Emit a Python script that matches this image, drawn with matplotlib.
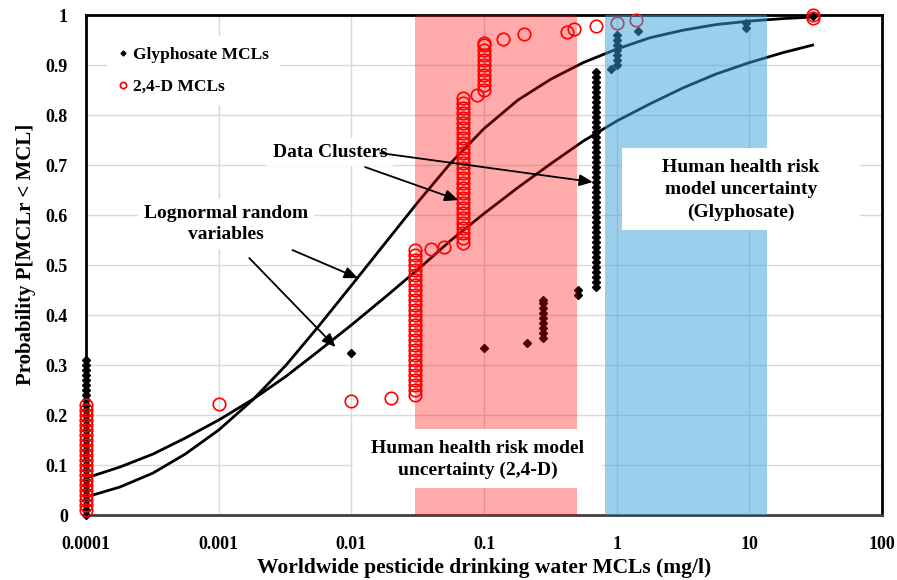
import matplotlib
matplotlib.use("Agg")
import matplotlib.pyplot as plt
from matplotlib.patches import Rectangle

plt.rcParams['font.family'] = ['Liberation Serif', 'DejaVu Serif']
plt.rcParams['font.weight'] = 'bold'
plt.rcParams['axes.labelweight'] = 'bold'

# lognormal curves, values at quarter decades
curve_x = [0.0001, 0.00018, 0.00032, 0.00056, 0.001, 0.0018, 0.0032, 0.0056,
           0.01, 0.018, 0.032, 0.056, 0.1, 0.18, 0.32, 0.56, 1, 1.8, 3.2, 5.6,
           10, 18, 30]
curve_a = [0.036, 0.056, 0.084, 0.122, 0.170, 0.230, 0.299, 0.376,
           0.459, 0.544, 0.627, 0.704, 0.773, 0.830, 0.872, 0.905, 0.932, 0.955,
           0.970, 0.981, 0.988, 0.993, 0.996]
curve_b = [0.074, 0.096, 0.122, 0.154, 0.190, 0.231, 0.277, 0.327,
           0.380, 0.436, 0.492, 0.549, 0.603, 0.655, 0.703, 0.748, 0.788, 0.823,
           0.855, 0.882, 0.905, 0.925, 0.940]

# Glyphosate MCLs (x value, probabilities)
gly_x = [0.0001, 0.01, 0.1, 0.21, 0.28, 0.51, 0.7, 0.9, 1.0, 1.44, 9.5, 30]
gly_y = [
    [0.00, 0.01, 0.02, 0.03, 0.04, 0.05, 0.06, 0.07, 0.08, 0.09, 0.10, 0.11,
     0.12, 0.13, 0.14, 0.15, 0.16, 0.17, 0.18, 0.19, 0.20, 0.21, 0.22, 0.23,
     0.24, 0.25, 0.26, 0.27, 0.28, 0.29, 0.30, 0.31],
    [0.325],
    [0.335],
    [0.345],
    [0.355, 0.365, 0.375, 0.385, 0.395, 0.405, 0.415, 0.425, 0.43],
    [0.44, 0.45],
    [0.457, 0.467, 0.477, 0.487, 0.497, 0.507, 0.517, 0.527, 0.537, 0.547,
     0.557, 0.567, 0.577, 0.587, 0.597, 0.607, 0.617, 0.627, 0.637, 0.647,
     0.657, 0.667, 0.677, 0.687, 0.697, 0.707, 0.717, 0.727, 0.737, 0.747,
     0.757, 0.767, 0.777, 0.787, 0.797, 0.807, 0.817, 0.827, 0.837, 0.847,
     0.857, 0.867, 0.877, 0.887],
    [0.893],
    [0.90, 0.91, 0.92, 0.93, 0.94, 0.95, 0.96],
    [0.968],
    [0.975, 0.985],
    [0.998],
]

# 2,4-D MCLs
d24_x = [0.0001, 0.001, 0.01, 0.02, 0.03, 0.04, 0.05, 0.07, 0.088, 0.1,
         0.14, 0.2, 0.42, 0.48, 0.7, 1.0, 1.4, 30]
d24_y = [
    [0.01, 0.02, 0.03, 0.04, 0.05, 0.06, 0.07, 0.08, 0.09, 0.10, 0.11, 0.12,
     0.13, 0.14, 0.15, 0.16, 0.17, 0.18, 0.19, 0.20, 0.21, 0.22],
    [0.223],
    [0.228],
    [0.234],
    [0.24, 0.25, 0.26, 0.27, 0.28, 0.29, 0.30, 0.31, 0.32, 0.33, 0.34, 0.35,
     0.36, 0.37, 0.38, 0.39, 0.40, 0.41, 0.42, 0.43, 0.44, 0.45, 0.46, 0.47,
     0.48, 0.49, 0.50, 0.51, 0.52, 0.53],
    [0.533],
    [0.537],
    [0.545, 0.555, 0.565, 0.575, 0.585, 0.595, 0.605, 0.615, 0.625, 0.635,
     0.645, 0.655, 0.665, 0.675, 0.685, 0.695, 0.705, 0.715, 0.725, 0.735,
     0.745, 0.755, 0.765, 0.775, 0.785, 0.795, 0.805, 0.815, 0.825, 0.835],
    [0.84],
    [0.85, 0.86, 0.87, 0.88, 0.89, 0.90, 0.91, 0.92, 0.93, 0.94, 0.945],
    [0.953],
    [0.962],
    [0.967],
    [0.973],
    [0.978],
    [0.984],
    [0.99],
    [0.995, 1.0],
]

x_ticks = [0.0001, 0.001, 0.01, 0.1, 1, 10, 100]
x_labels = ['0.0001', '0.001', '0.01', '0.1', '1', '10', '100']
y_ticks = [0, 0.1, 0.2, 0.3, 0.4, 0.5, 0.6, 0.7, 0.8, 0.9, 1]
y_labels = ['0', '0.1', '0.2', '0.3', '0.4', '0.5', '0.6', '0.7', '0.8', '0.9', '1']

fig = plt.figure(figsize=(8.97, 5.80), dpi=100)
ax = fig.add_axes([0.0959, 0.112, 0.8874, 0.862])
ax.set_xscale('log')
ax.set_xlim(0.0001, 100)
ax.set_ylim(0, 1)
ax.grid(True, which='major', color='#d9d9d9', lw=1, zorder=0)
ax.set_axisbelow(True)
ax.minorticks_off()
ax.set_xticks(x_ticks)
ax.set_xticklabels(x_labels, fontsize=13)
ax.set_yticks(y_ticks)
ax.set_yticklabels(y_labels, fontsize=13)
ax.tick_params(axis='x', length=0, pad=15)
ax.tick_params(axis='y', length=0, pad=13)
for s in ax.spines.values():
    s.set_linewidth(2)
    s.set_color('black')
ax.spines['bottom'].set_color('#404040')

ax.plot(curve_x, curve_a, color='black', lw=2, zorder=2)
ax.plot(curve_x, curve_b, color='black', lw=2, zorder=2)

gx = [x for x, ys in zip(gly_x, gly_y) for _ in ys]
gy = [y for ys in gly_y for y in ys]
dx = [x for x, ys in zip(d24_x, d24_y) for _ in ys]
dy = [y for ys in d24_y for y in ys]
ax.plot(gx, gy, ls='none', marker='D', ms=4.5, color='black', zorder=3,
        clip_on=False)
ax.plot(dx, dy, ls='none', marker='o', ms=9, mfc='none', mec='red', mew=1.2,
        zorder=3, clip_on=False)

# uncertainty bands drawn over the data, as in the original
ax.axvspan(0.03, 0.5, color='#ff0000', alpha=0.33, lw=0, zorder=4)
ax.axvspan(0.82, 13.5, color='#3aa0d8', alpha=0.5, lw=0, zorder=4)

# white label boxes
ax.add_patch(Rectangle((0.0103, 0.054), 0.774 - 0.0103, 0.118,
                       facecolor='white', edgecolor='none', zorder=5))
ax.add_patch(Rectangle((1.097, 0.57), 68.2 - 1.097, 0.164,
                       facecolor='white', edgecolor='none', zorder=5))

ax.text(0.09, 0.111, 'Human health risk model\nuncertainty (2,4-D)',
        ha='center', va='center', fontsize=14, linespacing=1.4, zorder=6)
ax.text(8.6, 0.65, 'Human health risk\nmodel uncertainty\n(Glyphosate)',
        ha='center', va='center', fontsize=14, linespacing=1.4, zorder=6)

bbox = dict(boxstyle='square,pad=0.3', fc='white', ec='none')
ax.text(0.0069, 0.726, 'Data Clusters', ha='center', va='center',
        fontsize=14, zorder=6, bbox=bbox)
ax.text(0.00114, 0.582, 'Lognormal random\nvariables', ha='center',
        va='center', fontsize=14, linespacing=1.3, zorder=6, bbox=bbox)

arrow = dict(arrowstyle='-|>,head_length=0.8,head_width=0.35', color='black',
             lw=1.3, shrinkA=0, shrinkB=0)
ax.annotate('', xy=(0.66, 0.666), xytext=(0.0165, 0.724), arrowprops=arrow,
            zorder=7)
ax.annotate('', xy=(0.064, 0.63), xytext=(0.0127, 0.696), arrowprops=arrow,
            zorder=7)
ax.annotate('', xy=(0.0112, 0.474), xytext=(0.0036, 0.53), arrowprops=arrow,
            zorder=7)
ax.annotate('', xy=(0.0076, 0.336), xytext=(0.0017, 0.514), arrowprops=arrow,
            zorder=7)

leg_g, = ax.plot([], [], ls='none', marker='D', ms=2.5, color='black')
leg_d, = ax.plot([], [], ls='none', marker='o', ms=4.5, mfc='none', mec='red',
                 mew=1.2)
leg = ax.legend([leg_g, leg_d], ['Glyphosate MCLs', '2,4-D MCLs'],
                loc='upper left', bbox_to_anchor=(0.016, 0.975), fontsize=12.5,
                frameon=True, fancybox=False, handlelength=0.6,
                handletextpad=0.3, labelspacing=0.9, borderpad=0.6)
leg.get_frame().set_edgecolor('none')
leg.get_frame().set_facecolor('white')
leg.get_frame().set_alpha(1)
leg.set_zorder(8)

ax.set_xlabel('Worldwide pesticide drinking water MCLs (mg/l)', fontsize=15.5,
              labelpad=4)
ax.set_ylabel('Probability P[MCLr < MCL]', fontsize=15)
ax.yaxis.set_label_coords(-0.063, 0.522)

fig.savefig('out.png', dpi=100)
